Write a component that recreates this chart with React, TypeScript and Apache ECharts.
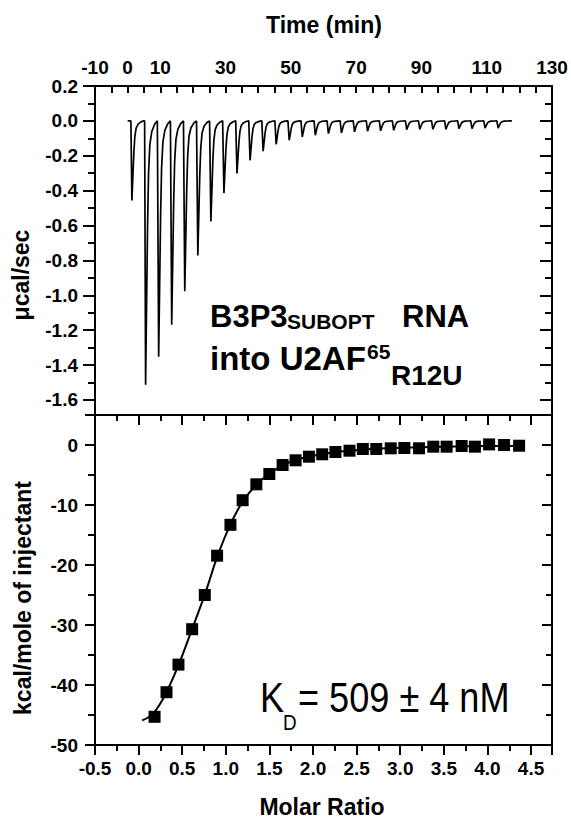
import React, { useEffect, useRef } from 'react';
import * as echarts from 'echarts';

// ---------- Top panel (raw thermogram) ----------
const timeLabels = [-10, 0, 10, 30, 50, 70, 90, 110, 130];
// time (min) of each injection spike minimum
const injTimes = [1.3, 5.5, 9.5, 13.5, 17.5, 21.5, 25.5, 29.5, 33.5, 37.5, 41.5, 45.5, 49.5, 53.5, 57.5,
  61.5, 65.5, 69.5, 73.5, 77.5, 81.5, 85.5, 89.5, 93.5, 97.5, 101.5, 105.5, 109.5, 113.5];
// spike depth (µcal/sec)
const peakHeights = [-0.456, -1.513, -1.352, -1.168, -0.977, -0.772, -0.576, -0.414, -0.302, -0.226,
  -0.174, -0.134, -0.111, -0.092, -0.082, -0.073, -0.069, -0.063, -0.059, -0.057, -0.054, -0.05,
  -0.048, -0.048, -0.048, -0.044, -0.044, -0.042, -0.042];
// spike profile: [minutes from minimum, fraction of depth]
const peakShape = [[-0.3, 0], [0, 1], [0.3, 0.7], [0.6, 0.4], [0.9, 0.2], [1.3, 0.09], [1.9, 0.04], [2.8, 0.012], [3.6, 0]];
const baselineStart = 0;
const baselineEnd = 117.7;
const topYLabels = [0.2, 0, -0.2, -0.4, -0.6, -0.8, -1.0, -1.2, -1.4, -1.6];
const topYMinor = [0.1, -0.1, -0.3, -0.5, -0.7, -0.9, -1.1, -1.3, -1.5];

// ---------- Bottom panel (integrated heats) ----------
const molarRatio = [0.183, 0.32, 0.457, 0.614, 0.759, 0.9, 1.053, 1.193, 1.35, 1.499, 1.651, 1.8, 1.953,
  2.105, 2.257, 2.418, 2.571, 2.725, 2.891, 3.047, 3.215, 3.379, 3.532, 3.704, 3.856, 4.019, 4.19, 4.363];
const heat = [-45.3, -41.2, -36.6, -30.7, -25.0, -18.45, -13.3, -9.2, -6.55, -4.83, -3.33, -2.55, -1.95,
  -1.55, -1.17, -0.95, -0.67, -0.67, -0.55, -0.5, -0.55, -0.28, -0.28, -0.17, -0.28, 0.1, 0.0, -0.12];
const fitX = [0.04, 0.1, 0.17, 0.24, 0.32, 0.46, 0.61, 0.76, 0.9, 1.05, 1.2, 1.35, 1.5, 1.65, 1.8, 2.0,
  2.25, 2.5, 2.75, 3.0, 3.5, 4.0, 4.37];
const fitY = [-45.9, -45.5, -44.7, -43.3, -41.2, -36.6, -30.8, -24.9, -18.7, -13.3, -9.3, -6.6, -4.8, -3.4,
  -2.5, -1.8, -1.2, -0.85, -0.6, -0.45, -0.28, -0.18, -0.13];

const FONT = '"Liberation Sans", Arial, Helvetica, sans-serif';
const BLACK = '#000';

export default function App() {
  const ref = useRef<HTMLDivElement>(null);

  useEffect(() => {
    if (!ref.current) return;
    const chart = echarts.init(ref.current, undefined, { renderer: 'svg' });

    const thermo: number[][] = [[baselineStart, 0]];
    injTimes.forEach((t, i) => {
      peakShape.forEach(([dt, f]) => thermo.push([t + dt, peakHeights[i] * f]));
    });
    thermo.push([baselineEnd, 0]);

    const points = molarRatio.map((x, i) => [x, heat[i]]);
    const fit = fitX.map((x, i) => [x, fitY[i]]);

    const tickLabel = { color: BLACK, fontFamily: FONT, fontWeight: 'bold' as const, fontSize: 19 };
    const line = { show: true, onZero: false, lineStyle: { color: BLACK, width: 2 } };
    const noLine = { show: false, onZero: false };

    const option: any = {
      animation: false,
      backgroundColor: '#fff',
      grid: [
        { left: 95, top: 86, width: 457, height: 329, outerBoundsMode: 'none', containLabel: false },
        { left: 95, top: 415, width: 457, height: 330, outerBoundsMode: 'none', containLabel: false },
      ],
      xAxis: [
        {
          gridIndex: 0, type: 'value', position: 'top', min: -10, max: 130, interval: 5,
          axisLine: line, splitLine: { show: false },
          axisTick: { show: true, inside: true, length: 7, lineStyle: { color: BLACK, width: 2 } },
          axisLabel: {
            ...tickLabel, margin: 9,
            formatter: (v: number) => (timeLabels.includes(Math.round(v)) ? String(Math.round(v)) : ''),
          },
        },
        {
          gridIndex: 1, type: 'value', position: 'bottom', min: -0.5, max: 4.74, interval: 0.5,
          axisLine: line, splitLine: { show: false },
          axisTick: { show: true, inside: false, length: 10, lineStyle: { color: BLACK, width: 2 } },
          minorTick: { show: true, splitNumber: 2, length: 6, lineStyle: { color: BLACK, width: 2 } },
          axisLabel: { ...tickLabel, margin: 14, showMaxLabel: false, formatter: (v: number) => v.toFixed(1) },
        },
        {
          gridIndex: 1, type: 'value', position: 'top', min: -0.5, max: 4.74, interval: 0.5,
          axisLine: line, splitLine: { show: false },
          axisTick: { show: true, inside: true, length: 10, lineStyle: { color: BLACK, width: 2 } },
          minorTick: { show: true, splitNumber: 2, length: 6, lineStyle: { color: BLACK, width: 2 } },
          axisLabel: { show: false },
        },
      ],
      yAxis: [
        {
          gridIndex: 0, type: 'value', position: 'left', min: -1.686, max: 0.2,
          axisLine: line, splitLine: { show: false },
          axisTick: { show: true, inside: false, length: 12, customValues: topYLabels, lineStyle: { color: BLACK, width: 2 } },
          axisLabel: { ...tickLabel, margin: 17, customValues: topYLabels, formatter: (v: number) => v.toFixed(1) },
        },
        {
          gridIndex: 0, type: 'value', position: 'left', min: -1.686, max: 0.2,
          axisLine: noLine, splitLine: { show: false },
          axisTick: { show: true, inside: false, length: 7, customValues: topYMinor, lineStyle: { color: BLACK, width: 2 } },
          axisLabel: { show: false },
        },
        {
          gridIndex: 0, type: 'value', position: 'right', min: -1.686, max: 0.2,
          axisLine: line, splitLine: { show: false },
          axisTick: { show: true, inside: true, length: 12, customValues: topYLabels, lineStyle: { color: BLACK, width: 2 } },
          axisLabel: { show: false },
        },
        {
          gridIndex: 0, type: 'value', position: 'right', min: -1.686, max: 0.2,
          axisLine: noLine, splitLine: { show: false },
          axisTick: { show: true, inside: true, length: 7, customValues: topYMinor, lineStyle: { color: BLACK, width: 2 } },
          axisLabel: { show: false },
        },
        {
          gridIndex: 1, type: 'value', position: 'left', min: -50, max: 5, interval: 10,
          axisLine: line, splitLine: { show: false },
          axisTick: { show: true, inside: false, length: 10, lineStyle: { color: BLACK, width: 2 } },
          minorTick: { show: true, splitNumber: 2, length: 7, lineStyle: { color: BLACK, width: 2 } },
          axisLabel: { ...tickLabel, margin: 17, showMaxLabel: false, formatter: (v: number) => (v > 0 ? '' : String(v)) },
        },
        {
          gridIndex: 1, type: 'value', position: 'right', min: -50, max: 5, interval: 10,
          axisLine: line, splitLine: { show: false },
          axisTick: { show: true, inside: true, length: 10, lineStyle: { color: BLACK, width: 2 } },
          minorTick: { show: true, splitNumber: 2, length: 6, lineStyle: { color: BLACK, width: 2 } },
          axisLabel: { show: false },
        },
      ],
      series: [
        {
          type: 'line', xAxisIndex: 0, yAxisIndex: 0, data: thermo, showSymbol: false, symbol: 'none',
          lineStyle: { color: BLACK, width: 1.7 }, clip: true,
        },
        {
          type: 'line', xAxisIndex: 1, yAxisIndex: 4, data: fit, showSymbol: false, symbol: 'none', smooth: 0.3,
          lineStyle: { color: BLACK, width: 2 },
        },
        {
          type: 'scatter', xAxisIndex: 1, yAxisIndex: 4, data: points, symbol: 'rect', symbolSize: 12,
          itemStyle: { color: BLACK, opacity: 1 },
        },
      ],
      graphic: [
        { type: 'text', x: 324, y: 25, style: { text: 'Time (min)', fontFamily: FONT, fontWeight: 'bold', fontSize: 23, fill: BLACK, align: 'center', verticalAlign: 'middle' } },
        { type: 'text', x: 322, y: 807, style: { text: 'Molar Ratio', fontFamily: FONT, fontWeight: 'bold', fontSize: 23, fill: BLACK, align: 'center', verticalAlign: 'middle' } },
        { type: 'text', x: 21, y: 275, rotation: Math.PI / 2, style: { text: 'μcal/sec', fontFamily: FONT, fontWeight: 'bold', fontSize: 23, fill: BLACK, align: 'center', verticalAlign: 'middle' } },
        { type: 'text', x: 23, y: 598, rotation: Math.PI / 2, style: { text: 'kcal/mole of injectant', fontFamily: FONT, fontWeight: 'bold', fontSize: 23, fill: BLACK, align: 'center', verticalAlign: 'middle' } },
        { type: 'text', x: 210, y: 316, style: { text: 'B3P3', fontFamily: FONT, fontWeight: 'bold', fontSize: 31, fill: BLACK, align: 'left', verticalAlign: 'middle' } },
        { type: 'text', x: 287, y: 321, style: { text: 'SUBOPT', fontFamily: FONT, fontWeight: 'bold', fontSize: 21, fill: BLACK, align: 'left', verticalAlign: 'middle' } },
        { type: 'text', x: 402, y: 316, style: { text: 'RNA', fontFamily: FONT, fontWeight: 'bold', fontSize: 31, fill: BLACK, align: 'left', verticalAlign: 'middle' } },
        { type: 'text', x: 210, y: 358, style: { text: 'into U2AF', fontFamily: FONT, fontWeight: 'bold', fontSize: 33, fill: BLACK, align: 'left', verticalAlign: 'middle' } },
        { type: 'text', x: 367, y: 351, style: { text: '65', fontFamily: FONT, fontWeight: 'bold', fontSize: 21, fill: BLACK, align: 'left', verticalAlign: 'middle' } },
        { type: 'text', x: 391, y: 375, style: { text: 'R12U', fontFamily: FONT, fontWeight: 'bold', fontSize: 28, fill: BLACK, align: 'left', verticalAlign: 'middle' } },
        { type: 'text', x: 260, y: 698, scaleX: 0.86, style: { text: 'K', fontFamily: FONT, fontSize: 42, fill: BLACK, align: 'left', verticalAlign: 'middle' } },
        { type: 'text', x: 283, y: 722, scaleX: 0.86, style: { text: 'D', fontFamily: FONT, fontSize: 22, fill: BLACK, align: 'left', verticalAlign: 'middle' } },
        { type: 'text', x: 298, y: 698, scaleX: 0.86, style: { text: '= 509 ± 4 nM', fontFamily: FONT, fontSize: 42, fill: BLACK, align: 'left', verticalAlign: 'middle' } },
      ],
    };

    chart.setOption(option);
    return () => chart.dispose();
  }, []);

  return (
    <div
      ref={ref}
      style={{ position: 'absolute', left: 0, top: 0, width: 571, height: 821, background: '#fff' }}
    />
  );
}
